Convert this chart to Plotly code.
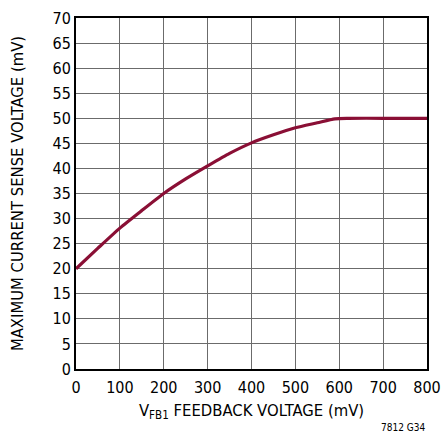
import plotly.graph_objects as go

vfb_mv = [0, 50, 100, 150, 200, 250, 300, 350, 400, 450, 500, 550, 590, 620, 700, 800]
sense_mv = [20, 24.1, 28.1, 31.6, 35.0, 37.9, 40.5, 43.0, 45.1, 46.7, 48.1, 49.1, 49.9, 50.0, 50.0, 50.0]

x_ticks = [0, 100, 200, 300, 400, 500, 600, 700, 800]
y_ticks = [0, 5, 10, 15, 20, 25, 30, 35, 40, 45, 50, 55, 60, 65, 70]

font_fam = "DejaVu Sans Condensed, Liberation Sans Narrow, Arial Narrow, Liberation Sans, sans-serif"

fig = go.Figure()
fig.add_trace(go.Scatter(x=vfb_mv, y=sense_mv, mode="lines",
                         line=dict(color="#8a0f35", width=3.2, shape="spline", smoothing=0.6),
                         showlegend=False))

fig.update_layout(
    width=443, height=436,
    margin=dict(l=76, r=16, t=18, b=67),
    paper_bgcolor="white", plot_bgcolor="white",
    font=dict(family=font_fam, size=16, color="black"),
    xaxis=dict(range=[0, 800], tickvals=x_ticks, ticktext=[str(v) for v in x_ticks],
               showgrid=True, gridcolor="#6b6b6b", gridwidth=1.2,
               showline=True, linecolor="black", linewidth=2, mirror=True,
               ticks="", zeroline=False, automargin=False, ticklabelstandoff=3,
               title=dict(text="V<sub>FB1</sub> FEEDBACK VOLTAGE (mV)", font=dict(size=16.5), standoff=8)),
    yaxis=dict(range=[0, 70], tickvals=y_ticks, ticktext=[str(v) for v in y_ticks],
               showgrid=True, gridcolor="#6b6b6b", gridwidth=1.2,
               showline=True, linecolor="black", linewidth=2, mirror=True,
               ticks="", zeroline=False, automargin=False,
               title=dict(text="MAXIMUM CURRENT SENSE VOLTAGE (mV)", font=dict(size=16.5), standoff=25)),
    annotations=[dict(text="7812 G34", xref="paper", yref="paper", x=1.0, y=-0.145,
                      xanchor="right", yanchor="top", showarrow=False,
                      font=dict(size=10, family=font_fam))],
)

fig.write_html("out.html", config={"displayModeBar": False},
               post_script="document.body.style.margin='0';document.body.style.padding='0';document.body.style.overflow='hidden';")
